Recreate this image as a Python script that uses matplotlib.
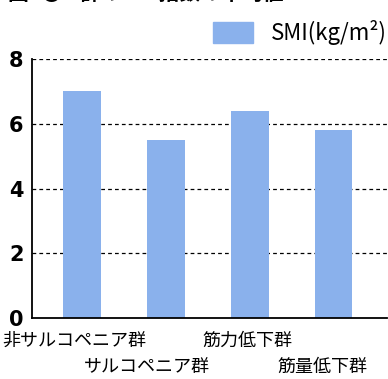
import matplotlib
matplotlib.use('Agg')
import matplotlib.pyplot as plt
import matplotlib.transforms as mtransforms
from matplotlib.patches import Patch

plt.rcParams['font.family'] = ['Noto Sans CJK JP', 'DejaVu Sans']

groups = ['非サルコペニア群', 'サルコペニア群', '筋力低下群', '筋量低下群']
smi = [7.0, 5.5, 6.4, 5.8]
yticks = [0, 2, 4, 6, 8]
bar_color = '#8AB1EC'

fig = plt.figure(figsize=(3.88, 3.79), dpi=100)
ax = fig.add_axes([0.0825, 0.161, 0.915, 0.683])

x = list(range(len(groups)))
ax.bar(x, smi, width=0.45, color=bar_color, zorder=2)

ax.set_xlim(-0.6, 3.64)
ax.set_ylim(0, 8)
ax.set_yticks(yticks)
ax.set_yticklabels([str(t) for t in yticks], family='Liberation Sans Narrow',
                   fontweight='bold', fontsize=15)
for t in yticks[1:]:
    ax.axhline(t, color='black', lw=0.9, ls=(0, (3, 2.5)), zorder=1)

# staggered category labels: second and fourth drop to a second row
ax.set_xticks(x)
ax.set_xticklabels([])
base = mtransforms.blended_transform_factory(ax.transData, ax.transAxes)
shifts = [-8, -19, -2, -11]
drops = [23, 49, 23, 49]
for i, g in enumerate(groups):
    off = mtransforms.ScaledTranslation(shifts[i] / 100, -drops[i] / 100,
                                        fig.dpi_scale_trans)
    ax.text(i, 0, g, transform=base + off, ha='center', va='center',
            fontsize=13)
ax.tick_params(axis='x', length=0)
ax.tick_params(axis='y', length=0, pad=6)

for s in ['top', 'right']:
    ax.spines[s].set_visible(False)
ax.spines['left'].set_linewidth(1.3)
ax.spines['bottom'].set_linewidth(1.3)

ax.legend([Patch(color=bar_color)], ['SMI(kg/m²)'], loc='lower right',
          bbox_to_anchor=(1.0, 1.055), frameon=False, fontsize=16,
          handlelength=1.8, handleheight=1.1, handletextpad=0.8,
          borderaxespad=0, borderpad=0)

# heading runs off the top edge
fig.text(0.02, 1 - 4 / 379, '図5● 4群のSMI指数の平均値', fontsize=15,
         fontweight='bold', va='bottom', ha='left')

fig.savefig('out.png', dpi=100)
